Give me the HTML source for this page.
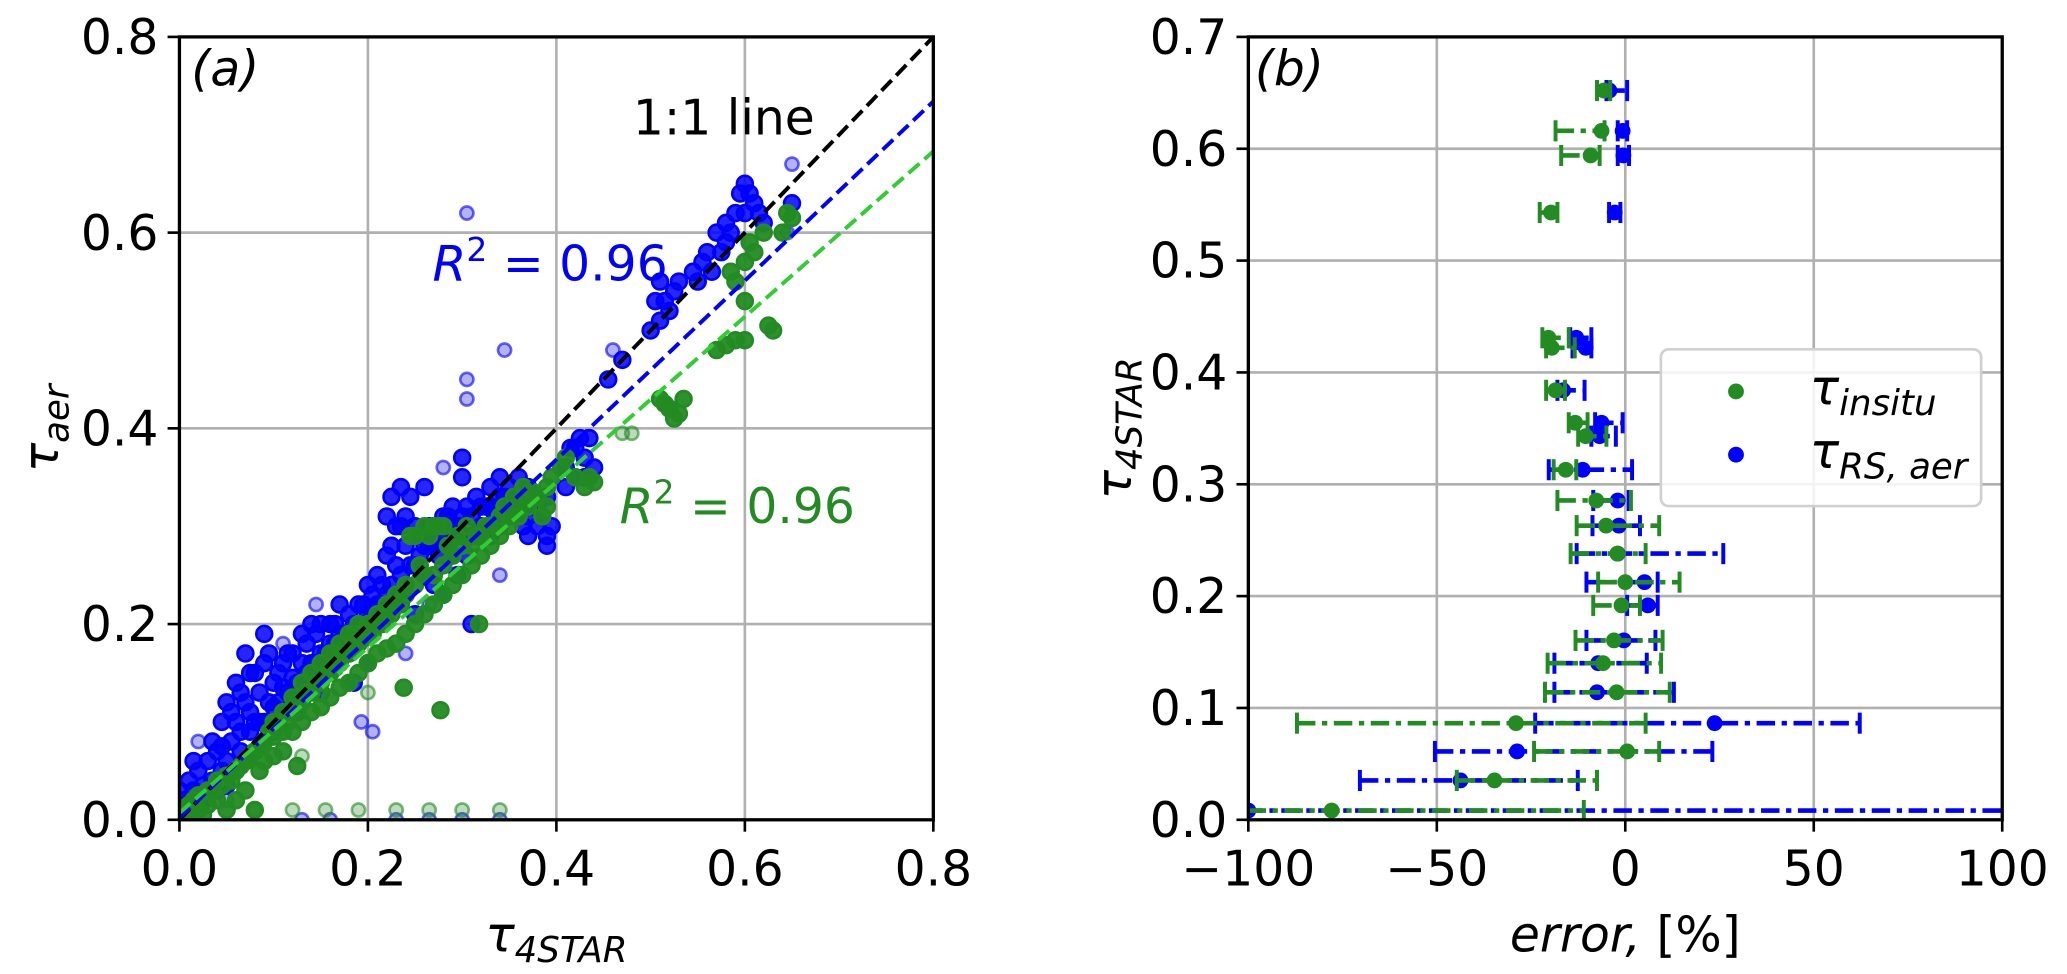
<!DOCTYPE html>
<html><head><meta charset="utf-8"><style>
body{margin:0;background:#fff;}
svg{display:block;font-family:"DejaVu Sans","Liberation Sans",sans-serif;}
</style></head><body>
<svg id="chart" width="2067" height="974" viewBox="0 0 1568 739">
<g id="pa"></g>
<g id="pb"></g>
</svg>
<script>
// ---------- Panel (a) data ----------
const aTicks=[0.0,0.2,0.4,0.6,0.8];
const aTickLabels=["0.0","0.2","0.4","0.6","0.8"];
const blueFit=[0.915,0.002];
const greenFit=[0.845,0.007];
const bluePts=[[0.005,0.02],[0.01,0.04],[0.01,0.01],[0.015,0.03],[0.02,0.05],[0.02,0.015],[0.025,0.035],[0.03,0.06],[0.03,0.025],[0.035,0.04],[0.04,0.07],[0.04,0.03],[0.045,0.1],[0.045,0.05],[0.05,0.12],[0.05,0.06],[0.05,0.035],[0.055,0.08],[0.06,0.14],[0.06,0.1],[0.06,0.05],[0.065,0.07],[0.07,0.17],[0.07,0.12],[0.07,0.06],[0.075,0.09],[0.08,0.15],[0.08,0.1],[0.08,0.07],[0.085,0.13],[0.09,0.19],[0.09,0.16],[0.09,0.1],[0.09,0.08],[0.095,0.12],[0.1,0.14],[0.1,0.09],[0.105,0.12],[0.11,0.16],[0.11,0.11],[0.115,0.13],[0.12,0.17],[0.12,0.12],[0.125,0.14],[0.13,0.19],[0.13,0.13],[0.135,0.15],[0.14,0.2],[0.14,0.14],[0.145,0.16],[0.15,0.2],[0.15,0.13],[0.155,0.17],[0.16,0.2],[0.16,0.15],[0.165,0.18],[0.17,0.22],[0.17,0.16],[0.175,0.19],[0.18,0.21],[0.18,0.17],[0.185,0.14],[0.19,0.22],[0.19,0.18],[0.195,0.2],[0.2,0.24],[0.2,0.19],[0.2,0.16],[0.205,0.21],[0.21,0.25],[0.21,0.2],[0.215,0.22],[0.22,0.31],[0.22,0.27],[0.22,0.21],[0.225,0.33],[0.225,0.24],[0.23,0.3],[0.23,0.22],[0.235,0.34],[0.235,0.25],[0.24,0.28],[0.24,0.23],[0.245,0.33],[0.25,0.26],[0.25,0.21],[0.255,0.29],[0.26,0.34],[0.26,0.25],[0.265,0.28],[0.27,0.3],[0.27,0.24],[0.275,0.27],[0.28,0.29],[0.28,0.23],[0.285,0.31],[0.29,0.27],[0.29,0.3],[0.295,0.25],[0.3,0.37],[0.3,0.35],[0.3,0.29],[0.305,0.27],[0.31,0.31],[0.31,0.2],[0.315,0.33],[0.32,0.3],[0.325,0.32],[0.33,0.34],[0.33,0.29],[0.335,0.31],[0.34,0.35],[0.34,0.3],[0.345,0.33],[0.35,0.34],[0.35,0.31],[0.36,0.35],[0.36,0.32],[0.365,0.3],[0.37,0.34],[0.37,0.29],[0.375,0.32],[0.38,0.3],[0.385,0.31],[0.39,0.33],[0.39,0.29],[0.39,0.28],[0.41,0.36],[0.41,0.34],[0.42,0.38],[0.42,0.35],[0.425,0.39],[0.43,0.37],[0.43,0.35],[0.44,0.36],[0.455,0.45],[0.47,0.47],[0.5,0.5],[0.505,0.53],[0.51,0.55],[0.51,0.51],[0.515,0.53],[0.52,0.52],[0.525,0.54],[0.55,0.55],[0.555,0.57],[0.56,0.58],[0.565,0.56],[0.57,0.6],[0.575,0.58],[0.58,0.61],[0.58,0.59],[0.59,0.62],[0.595,0.64],[0.6,0.65],[0.6,0.62],[0.61,0.63],[0.62,0.61],[0.65,0.63]];
const blueBand=[[0.0,0.03],[0.015,0.06],[0.025,0.02],[0.035,0.08],[0.045,0.075],[0.055,0.11],[0.065,0.13],[0.065,0.09],[0.075,0.15],[0.075,0.11],[0.085,0.1],[0.095,0.17],[0.1,0.115],[0.105,0.15],[0.11,0.135],[0.115,0.17],[0.12,0.145],[0.125,0.11],[0.13,0.16],[0.135,0.18],[0.14,0.16],[0.145,0.19],[0.15,0.17],[0.155,0.15],[0.16,0.18],[0.165,0.2],[0.17,0.19],[0.175,0.17],[0.18,0.19],[0.185,0.2],[0.19,0.2],[0.195,0.22],[0.2,0.21],[0.205,0.23],[0.21,0.22],[0.215,0.24],[0.22,0.23],[0.225,0.28],[0.23,0.26],[0.235,0.3],[0.24,0.31],[0.245,0.26],[0.25,0.3],[0.255,0.27],[0.26,0.28],[0.265,0.3],[0.27,0.28],[0.275,0.29],[0.28,0.31],[0.285,0.28],[0.29,0.32],[0.295,0.3],[0.3,0.31],[0.305,0.32],[0.31,0.29],[0.32,0.32],[0.33,0.32],[0.34,0.33],[0.35,0.32],[0.36,0.33],[0.37,0.31],[0.38,0.32],[0.395,0.3],[0.415,0.38],[0.435,0.39],[0.53,0.55],[0.545,0.56],[0.585,0.6],[0.605,0.64],[0.615,0.62]];
const blueFaint=[[0.305,0.62],[0.345,0.48],[0.305,0.45],[0.305,0.43],[0.13,0.0],[0.16,0.0],[0.23,0.0],[0.265,0.0],[0.3,0.0],[0.34,0.0],[0.193,0.1],[0.205,0.09],[0.265,0.22],[0.24,0.17],[0.145,0.22],[0.11,0.18],[0.28,0.36],[0.34,0.25],[0.46,0.48],[0.65,0.67],[0.645,0.6],[0.02,0.08],[0.05,0.02]];
const greenPts=[[0.0,0.0],[0.01,0.005],[0.01,0.015],[0.02,0.01],[0.02,0.025],[0.03,0.015],[0.03,0.03],[0.04,0.02],[0.04,0.04],[0.05,0.01],[0.05,0.045],[0.06,0.02],[0.06,0.05],[0.07,0.03],[0.07,0.06],[0.08,0.01],[0.08,0.07],[0.085,0.05],[0.09,0.08],[0.09,0.06],[0.1,0.085],[0.1,0.065],[0.105,0.1],[0.11,0.09],[0.11,0.07],[0.12,0.11],[0.12,0.09],[0.125,0.055],[0.13,0.12],[0.13,0.1],[0.14,0.13],[0.14,0.11],[0.15,0.14],[0.15,0.115],[0.16,0.15],[0.16,0.125],[0.165,0.17],[0.17,0.16],[0.17,0.135],[0.18,0.17],[0.18,0.14],[0.185,0.19],[0.19,0.18],[0.19,0.15],[0.2,0.19],[0.2,0.16],[0.21,0.2],[0.21,0.17],[0.22,0.21],[0.22,0.175],[0.23,0.22],[0.23,0.18],[0.24,0.23],[0.24,0.19],[0.238,0.135],[0.245,0.29],[0.25,0.24],[0.25,0.2],[0.26,0.3],[0.26,0.25],[0.26,0.21],[0.27,0.3],[0.27,0.25],[0.27,0.22],[0.277,0.112],[0.28,0.3],[0.28,0.26],[0.28,0.23],[0.29,0.27],[0.29,0.24],[0.3,0.28],[0.3,0.25],[0.31,0.28],[0.31,0.26],[0.318,0.2],[0.32,0.29],[0.32,0.27],[0.33,0.3],[0.33,0.28],[0.34,0.31],[0.34,0.29],[0.35,0.31],[0.35,0.3],[0.36,0.32],[0.36,0.31],[0.37,0.33],[0.37,0.32],[0.38,0.33],[0.385,0.31],[0.39,0.32],[0.39,0.34],[0.41,0.37],[0.42,0.35],[0.43,0.34],[0.44,0.345],[0.51,0.43],[0.52,0.42],[0.525,0.41],[0.53,0.415],[0.535,0.43],[0.57,0.48],[0.58,0.485],[0.59,0.49],[0.6,0.49],[0.625,0.505],[0.63,0.5],[0.59,0.55],[0.6,0.57],[0.61,0.58],[0.62,0.6],[0.6,0.53],[0.64,0.6],[0.645,0.62]];
const greenBand=[[0.005,0.01],[0.015,0.02],[0.025,0.005],[0.035,0.03],[0.045,0.035],[0.055,0.04],[0.065,0.055],[0.075,0.065],[0.085,0.075],[0.095,0.09],[0.1,0.1],[0.11,0.11],[0.115,0.1],[0.12,0.125],[0.125,0.12],[0.13,0.14],[0.135,0.13],[0.14,0.15],[0.145,0.14],[0.15,0.16],[0.155,0.15],[0.16,0.17],[0.165,0.155],[0.17,0.18],[0.175,0.17],[0.18,0.19],[0.185,0.18],[0.19,0.2],[0.195,0.185],[0.2,0.2],[0.205,0.19],[0.21,0.21],[0.215,0.2],[0.22,0.22],[0.225,0.21],[0.23,0.23],[0.235,0.22],[0.24,0.24],[0.25,0.29],[0.255,0.26],[0.265,0.29],[0.275,0.3],[0.285,0.28],[0.295,0.29],[0.305,0.3],[0.315,0.29],[0.325,0.3],[0.345,0.32],[0.355,0.33],[0.365,0.34],[0.375,0.335],[0.395,0.35],[0.405,0.36],[0.435,0.35],[0.515,0.425],[0.585,0.56],[0.605,0.59],[0.65,0.615]];
const greenFaint=[[0.08,0.01],[0.12,0.01],[0.155,0.01],[0.19,0.01],[0.23,0.01],[0.265,0.01],[0.3,0.01],[0.34,0.01],[0.47,0.395],[0.48,0.395],[0.2,0.13],[0.13,0.065]];

// ---------- Panel (b) data ----------
const bXTicks=[-100,-50,0,50,100];
const bXLabels=["\u2212100","\u221250","0","50","100"];
const bYTicks=[0,0.1,0.2,0.3,0.4,0.5,0.6,0.7];
const bYLabels=["0.0","0.1","0.2","0.3","0.4","0.5","0.6","0.7"];
const tauLevels=[0.652,0.616,0.594,0.543,0.431,0.422,0.384,0.355,0.343,0.313,0.2855,0.263,0.238,0.2125,0.1917,0.1604,0.140,0.114,0.0864,0.0611,0.0352,0.0083];
const greenErr=[-5.7,-6.3,-9.2,-19.7,-20.4,-19.5,-18.5,-13.3,-10.5,-15.8,-7.7,-5.1,-2.1,0,-1,-3,-5.9,-2.3,-29,0.5,-34.7,-77.9];
const greenLo=[-7.5,-18.5,-17,-22.7,-22,-21,-21,-15,-12.5,-19,-18,-12.9,-14.5,-7.2,-8.5,-13.2,-20.6,-21.3,-87.1,-24.2,-44.7,-110];
const greenHi=[-4,-5.5,-6.8,-18,-15,-13.4,-16,-10,-5,-13,1.5,9,5.4,14.4,3.9,9.9,9.5,11.8,5.4,9,-7.5,-11];
const blueErr=[-4.2,-0.7,-0.5,-2.8,-13,-10.5,-16.5,-6.3,-6.8,-11.3,-2,-1.7,-2,5.1,6,-0.4,-7.2,-7.5,23.7,-28.7,-43.7,-100];
const blueLo=[-5,-2,-2,-4.3,-14.6,-14,-18,-8,-9,-20.3,-8.5,-8.7,-12.9,-10.3,0.5,-10.3,-18.8,-18.8,-23.9,-50.5,-70.4,-150];
const blueHi=[0.5,0.5,1,-1.3,-9,-9,-10.8,-0.7,-2.5,1.8,0.9,3.9,26,8.6,8.6,8,5.7,12.9,62.2,23.1,-12.6,150];

const NS="http://www.w3.org/2000/svg";
function mk(tag,attrs,parent,text){const e=document.createElementNS(NS,tag);for(const k in attrs)e.setAttribute(k,attrs[k]);if(text!==undefined)e.textContent=text;parent.appendChild(e);return e;}

// Panel a axes
const A={x0:136,x1:708,y0:622,y1:28};
const ax=v=>A.x0+(v/0.8)*(A.x1-A.x0);
const ay=v=>A.y0-(v/0.8)*(A.y0-A.y1);
const pa=document.getElementById('pa');
const clipA=mk('clipPath',{id:'ca'},pa);mk('rect',{x:A.x0,y:A.y1,width:A.x1-A.x0,height:A.y0-A.y1},clipA);
aTicks.forEach((t,i)=>{
  const g=mk('line',{x1:ax(t),x2:ax(t),y1:A.y1,y2:A.y0,stroke:'#b0b0b0','stroke-width':2},pa);
  
  const h=mk('line',{x1:A.x0,x2:A.x1,y1:ay(t),y2:ay(t),stroke:'#b0b0b0','stroke-width':2},pa);
  
  mk('line',{x1:ax(t),x2:ax(t),y1:A.y0,y2:A.y0+9,stroke:'#000','stroke-width':2},pa);
  mk('line',{x1:A.x0-9,x2:A.x0,y1:ay(t),y2:ay(t),stroke:'#000','stroke-width':2},pa);
  const tx=mk('text',{x:ax(t),y:A.y0+50,'font-size':37,'text-anchor':'middle'},pa,aTickLabels[i]);
  
  const ty=mk('text',{x:A.x0-16,y:ay(t)+13,'font-size':37,'text-anchor':'end'},pa,aTickLabels[i]);
  
});
const ga=mk('g',{'clip-path':'url(#ca)'},pa);
function dots(arr,col,op,name,r){arr.forEach(p=>{const c=mk('circle',{cx:ax(p[0]),cy:ay(p[1]),r:r,fill:col,'fill-opacity':op,stroke:col,'stroke-opacity':Math.min(1,op+0.3),'stroke-width':2},ga);
  });}
dots(blueFaint,'#0000ff',0.3,'blue-point',5);
dots(bluePts,'#0000ff',0.85,'blue-point',6);
dots(blueBand,'#0000ff',0.85,'blue-point',6);
dots(greenFaint,'#228b22',0.3,'green-point',5);
dots(greenPts,'#228b22',0.95,'green-point',6);
dots(greenBand,'#228b22',0.95,'green-point',6);
const l1=mk('line',{x1:ax(0),y1:ay(0),x2:ax(0.8),y2:ay(0.8),stroke:'#000','stroke-width':3,'stroke-dasharray':'11,5'},ga);

const l2=mk('line',{x1:ax(0),y1:ay(blueFit[1]),x2:ax(0.8),y2:ay(blueFit[0]*0.8+blueFit[1]),stroke:'#0000ff','stroke-width':3,'stroke-dasharray':'11,5'},ga);

const l3=mk('line',{x1:ax(0),y1:ay(greenFit[1]),x2:ax(0.8),y2:ay(greenFit[0]*0.8+greenFit[1]),stroke:'#32cd32','stroke-width':3,'stroke-dasharray':'11,5'},ga);

mk('rect',{x:A.x0,y:A.y1,width:A.x1-A.x0,height:A.y0-A.y1,fill:'none',stroke:'#000','stroke-width':2.5},pa);

let t;
t=mk('text',{x:145,y:65,'font-size':37,'font-style':'italic'},pa,'(a)');
t=mk('text',{x:480,y:102,'font-size':37},pa,'1:1 line');
t=mk('text',{x:328,y:213,'font-size':37,fill:'#0000ff'},pa);t.innerHTML='<tspan font-style="italic">R</tspan><tspan font-size="25" dy="-15">2</tspan><tspan dy="15"> = 0.96</tspan>';
t=mk('text',{x:470,y:397,'font-size':37,fill:'#228b22'},pa);t.innerHTML='<tspan font-style="italic">R</tspan><tspan font-size="25" dy="-15">2</tspan><tspan dy="15"> = 0.96</tspan>';
t=mk('text',{x:422,y:722,'font-size':37,'text-anchor':'middle','font-style':'italic'},pa);t.innerHTML='τ<tspan font-size="27" dy="8">4STAR</tspan>';
t=mk('text',{x:0,y:0,'font-size':37,'text-anchor':'middle','font-style':'italic',transform:'translate(44,325) rotate(-90)'},pa);t.innerHTML='τ<tspan font-size="27" dy="8">aer</tspan>';

// Panel b
const B={x0:947,x1:1519,y0:622,y1:28};
const bx=v=>B.x0+((v+100)/200)*(B.x1-B.x0);
const by=v=>B.y0-(v/0.7)*(B.y0-B.y1);
const pb=document.getElementById('pb');
const clipB=mk('clipPath',{id:'cb'},pb);mk('rect',{x:B.x0,y:B.y1,width:B.x1-B.x0,height:B.y0-B.y1},clipB);
bXTicks.forEach((v,i)=>{
  const g=mk('line',{x1:bx(v),x2:bx(v),y1:B.y1,y2:B.y0,stroke:'#b0b0b0','stroke-width':2},pb);
  
  mk('line',{x1:bx(v),x2:bx(v),y1:B.y0,y2:B.y0+9,stroke:'#000','stroke-width':2},pb);
  const tx=mk('text',{x:bx(v),y:B.y0+50,'font-size':37,'text-anchor':'middle'},pb,bXLabels[i]);
  
});
bYTicks.forEach((v,i)=>{
  const g=mk('line',{x1:B.x0,x2:B.x1,y1:by(v),y2:by(v),stroke:'#b0b0b0','stroke-width':2},pb);
  
  mk('line',{x1:B.x0-9,x2:B.x0,y1:by(v),y2:by(v),stroke:'#000','stroke-width':2},pb);
  const ty=mk('text',{x:B.x0-16,y:by(v)+13,'font-size':37,'text-anchor':'end'},pb,bYLabels[i]);
  
});
const gb=mk('g',{'clip-path':'url(#cb)'},pb);
function ebars(cen,lo,hi,col,name){
  tauLevels.forEach((tau,i)=>{
    const y=by(tau);
    const ln=mk('line',{x1:bx(lo[i]),x2:bx(hi[i]),y1:y,y2:y,stroke:col,'stroke-width':3.5,'stroke-dasharray':'14,5,4,5'},gb);
    
    [lo[i],hi[i]].forEach(v=>{mk('line',{x1:bx(v),x2:bx(v),y1:y-8,y2:y+8,stroke:col,'stroke-width':3},gb);});
    const c=mk('circle',{cx:bx(cen[i]),cy:y,r:6,fill:col},gb);
    
  });
}
ebars(blueErr,blueLo,blueHi,'#0000ff','rs-aer');
ebars(greenErr,greenLo,greenHi,'#228b22','insitu');
mk('rect',{x:B.x0,y:B.y1,width:B.x1-B.x0,height:B.y0-B.y1,fill:'none',stroke:'#000','stroke-width':2.5},pb);
t=mk('text',{x:952,y:65,'font-size':37,'font-style':'italic'},pb,'(b)');
const lg=mk('g',{},pb);
mk('rect',{x:1260,y:265,width:243,height:119,rx:6,fill:'#fff','fill-opacity':0.85,stroke:'#d0d0d0','stroke-width':2},lg);
mk('circle',{cx:1317,cy:297,r:6,fill:'#228b22'},lg);
mk('circle',{cx:1317,cy:345,r:6,fill:'#0000ff'},lg);
t=mk('text',{x:1373,y:307,'font-size':37,'font-style':'italic'},lg);t.innerHTML='τ<tspan font-size="27" dy="8">insitu</tspan>';
t=mk('text',{x:1373,y:355,'font-size':37,'font-style':'italic'},lg);t.innerHTML='τ<tspan font-size="27" dy="8">RS, aer</tspan>';
t=mk('text',{x:1233,y:722,'font-size':37,'text-anchor':'middle'},pb);t.innerHTML='<tspan font-style="italic">error,</tspan>  [%]';
t=mk('text',{x:0,y:0,'font-size':37,'text-anchor':'middle','font-style':'italic',transform:'translate(858,325) rotate(-90)'},pb);t.innerHTML='τ<tspan font-size="27" dy="8">4STAR</tspan>';
</script>
</body></html>
